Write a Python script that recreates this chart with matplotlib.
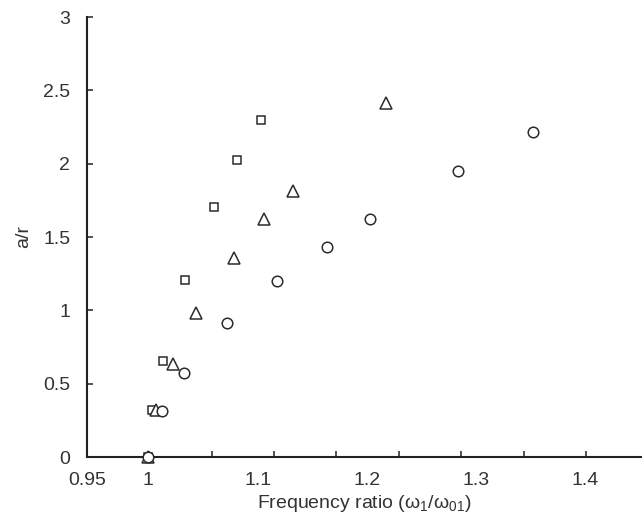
import matplotlib
matplotlib.use("Agg")
import matplotlib.pyplot as plt
import numpy as np

# data (frequency ratio, a/r)
sq_x = [1.0, 1.003, 1.013, 1.0335, 1.0596, 1.0813, 1.1027]
sq_y = [0.0, 0.32, 0.654, 1.21, 1.706, 2.025, 2.297]

tri_x = [1.0, 1.007, 1.0228, 1.0438, 1.0779, 1.1062, 1.1326, 1.2171]
tri_y = [0.0, 0.32, 0.632, 0.98, 1.354, 1.62, 1.813, 2.411]

circ_x = [1.0, 1.0122, 1.0323, 1.0722, 1.1179, 1.1631, 1.203, 1.283, 1.3516]
circ_y = [0.0, 0.316, 0.571, 0.913, 1.202, 1.434, 1.62, 1.952, 2.213]

x_labels = ['0.95', '1', '1.1', '1.2', '1.3', '1.4']

plt.rcParams['font.family'] = ['Liberation Sans', 'DejaVu Sans']
plt.rcParams['mathtext.default'] = 'regular'

txt = '#333333'
ax_col = '#222222'
mk = '#2b2b2b'
fs = 14

fig = plt.figure(figsize=(6.42, 5.30), dpi=100)
ax = fig.add_axes([87 / 642, 73 / 530, 555 / 642, 440 / 530])

x_lo = 1 - 61.4 / 1093
x_hi = 1 + 493.6 / 1093

ax.plot(sq_x, sq_y, 's', ms=6.2, mfc='white', mec=mk, mew=1.1, clip_on=False, zorder=3)
ax.plot(tri_x, tri_y, '^', ms=8.6, mfc='white', mec=mk, mew=1.1, clip_on=False, zorder=3)
ax.plot(circ_x, circ_y, 'o', ms=7.6, mfc='white', mec=mk, mew=1.1, clip_on=False, zorder=3)

ax.set_xlim(x_lo, x_hi)
ax.set_ylim(0, 3)

# labelled positions (no marks) + evenly spaced tick marks
ax.set_xticks([x_lo, 1.0, 1.1, 1.2, 1.3, 1.4])
ax.set_xticklabels(x_labels)
ax.set_xticks(x_lo + np.arange(1, 9) * (499 / 8 / 1093), minor=True)
ax.tick_params(axis='x', which='major', length=0, pad=11, labelsize=fs, labelcolor=txt)
ax.tick_params(axis='x', which='minor', direction='in', length=4.5, width=1.1, color=ax_col)

ax.set_yticks(np.arange(0, 3.01, 0.5))
ax.set_yticklabels(['0', '0.5', '1', '1.5', '2', '2.5', '3'])
ax.tick_params(axis='y', direction='in', length=4.5, width=1.1, color=ax_col,
               pad=12, labelsize=fs, labelcolor=txt)

for s in ['top', 'right']:
    ax.spines[s].set_visible(False)
for s in ['left', 'bottom']:
    ax.spines[s].set_linewidth(1.5)
    ax.spines[s].set_color(ax_col)

ax.set_xlabel('Frequency ratio (ω$_{1}$/ω$_{01}$)', fontsize=fs, color=txt, labelpad=3)
ax.set_ylabel('a/r', fontsize=fs, color=txt, labelpad=8)

fig.savefig('out.png', dpi=100)
